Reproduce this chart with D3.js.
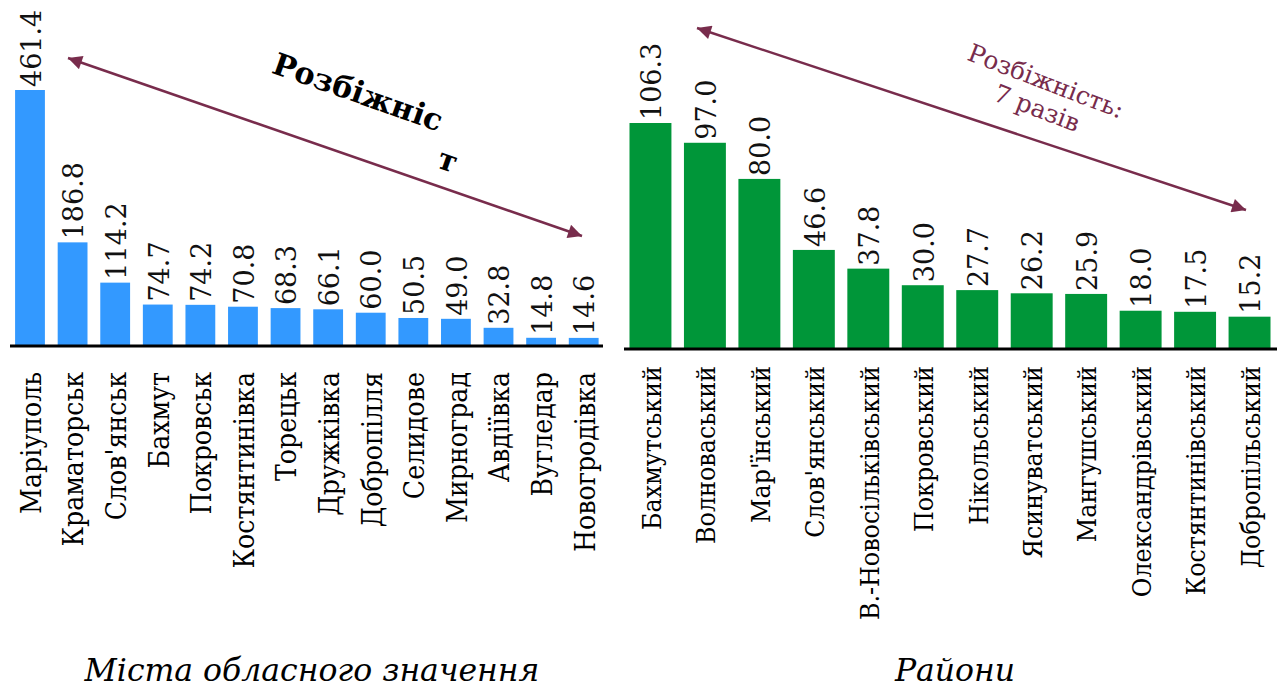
<!DOCTYPE html>
<html><head><meta charset="utf-8">
<script src="https://cdn.jsdelivr.net/npm/d3@7"></script>
<style>
html,body{margin:0;padding:0;background:#fff;}
svg{display:block;}
</style></head>
<body>
<svg id="c" width="1282" height="687"></svg>
<script>
const cityNames = ["Маріуполь","Краматорськ","Слов'янськ","Бахмут","Покровськ","Костянтинівка","Торецьк","Дружківка","Добропілля","Селидове","Мирноград","Авдіївка","Вугледар","Новогродівка"];
const cityValues = [461.4,186.8,114.2,74.7,74.2,70.8,68.3,66.1,60.0,50.5,49.0,32.8,14.8,14.6];
const districtNames = ["Бахмутський","Волноваський","Мар'їнський","Слов'янський","В.-Новосільківський","Покровський","Нікольський","Ясинуватський","Мангушський","Олександрівський","Костянтинівський","Добропільський"];
const districtValues = [106.3,97.0,80.0,46.6,37.8,30.0,27.7,26.2,25.9,18.0,17.5,15.2];
const titles = ["Міста обласного значення","Райони"];
const noteLeft = ["Розбіжніс","т"];
const noteRight = ["Розбіжність:","7 разів"];

const DSERIF = "'DejaVu Serif',serif";
const CSERIF = "'DejaVu Serif Condensed','DejaVu Serif',serif";
const svg = d3.select("#c");
const MAROON = "#782c4c";

const defs = svg.append("defs");
["s","e"].forEach(k=>{
  defs.append("marker").attr("id","m"+k).attr("viewBox","0 0 10 10")
    .attr("refX", k==="e"?10:0).attr("refY",5).attr("markerWidth",17).attr("markerHeight",14)
    .attr("markerUnits","userSpaceOnUse").attr("orient","auto")
    .append("path").attr("d", k==="e" ? "M0,0 L10,5 L0,10 z" : "M10,0 L0,5 L10,10 z")
    .attr("fill",MAROON);
});

function fitSize(sel, target, base){
  const w = sel.node().getComputedTextLength();
  return base * target / w;
}

function panel(cfg){
  const x = d3.scaleBand().domain(cfg.names).range(cfg.xr).paddingInner(cfg.pad).paddingOuter(cfg.padO);
  const y = d3.scaleLinear().domain([0, d3.max(cfg.values)]).range([cfg.base, cfg.top]);
  const g = svg.append("g");
  const data = cfg.names.map((n,i)=>({n, v:cfg.values[i]}));
  g.selectAll("rect").data(data).join("rect")
    .attr("x", d=>x(d.n)).attr("width", x.bandwidth())
    .attr("y", d=>y(d.v)).attr("height", d=>cfg.base - y(d.v))
    .attr("fill", cfg.color);
  g.selectAll("text.v").data(data).join("text").attr("class","v")
    .attr("transform", d=>`translate(${x(d.n)+x.bandwidth()/2+1},${y(d.v)-3}) rotate(-90)`)
    .attr("dy","0.36em")
    .style("font-family",DSERIF).style("font-size","27px").style("font-weight","300").attr("fill","#111")
    .text(d=>d.v.toFixed(1));
  const ax = d3.axisBottom(x).tickSize(0).tickPadding(0);
  const axg = g.append("g").attr("transform",`translate(0,${cfg.base})`).call(ax);
  axg.attr("font-family",null).attr("font-size",null);
  axg.select(".domain").attr("stroke","#000").attr("stroke-width",3)
    .attr("d", `M${cfg.line[0]},0H${cfg.line[1]}`);
  const t = axg.selectAll(".tick text")
    .attr("transform", `translate(1,${cfg.labTop}) rotate(-90)`)
    .attr("y",0).attr("dy","0.35em")
    .attr("text-anchor","end")
    .style("font-family",CSERIF).style("font-stretch","condensed").style("font-size","26px").attr("fill","#000");
  const fs = fitSize(d3.select(t.nodes()[0]), cfg.firstW, 26);
  t.style("font-size", fs+"px");
  return {x,y};
}

panel({names:cityNames, values:cityValues, xr:[8.7,605], pad:0.3, padO:0.15, base:346, top:90,
  color:"#3399ff", line:[10,603], labTop:26, firstW:142});
panel({names:districtNames, values:districtValues, xr:[623.5,1276.5], pad:0.23, padO:0.11, base:349, top:123,
  color:"#009639", line:[624,1277], labTop:17, firstW:164});

// arrows
svg.append("line").attr("x1",68).attr("y1",58).attr("x2",582).attr("y2",236)
  .attr("stroke",MAROON).attr("stroke-width",2.5)
  .attr("marker-start","url(#ms)").attr("marker-end","url(#me)");
svg.append("line").attr("x1",697).attr("y1",28).attr("x2",1246).attr("y2",210)
  .attr("stroke",MAROON).attr("stroke-width",2.5)
  .attr("marker-start","url(#ms)").attr("marker-end","url(#me)");

// notes
const n1 = svg.append("text").attr("transform","translate(358,92) rotate(19.5)")
  .attr("text-anchor","middle").attr("dy","0.35em")
  .style("font-family",DSERIF).style("font-weight","bold").style("font-size","28px")
  .text(noteLeft[0]);
const nfs = fitSize(n1, 178, 28);
n1.style("font-size", nfs+"px");
svg.append("text").attr("transform","translate(448,160) rotate(19.5)")
  .attr("text-anchor","middle").attr("dy","0.35em")
  .style("font-family",DSERIF).style("font-weight","bold").style("font-size",nfs+"px")
  .text(noteLeft[1]);
const r1 = svg.append("text").attr("transform","translate(1046,81) rotate(21)")
  .attr("text-anchor","middle").attr("dy","0.35em").attr("fill",MAROON)
  .style("font-family",DSERIF).style("font-size","22px")
  .text(noteRight[0]);
const rfs = fitSize(r1, 165, 22);
r1.style("font-size", rfs+"px");
svg.append("text").attr("transform","translate(1037,108) rotate(21)")
  .attr("text-anchor","middle").attr("dy","0.35em").attr("fill",MAROON)
  .style("font-family",DSERIF).style("font-size",rfs+"px")
  .text(noteRight[1]);

// titles
const t1 = svg.append("text").attr("x",312).attr("y",681).attr("text-anchor","middle")
  .style("font-family",DSERIF).style("font-style","italic").style("font-size","30px")
  .text(titles[0]);
const tfs = fitSize(t1, 455, 30);
t1.style("font-size", tfs+"px");
svg.append("text").attr("x",955).attr("y",681).attr("text-anchor","middle")
  .style("font-family",DSERIF).style("font-style","italic").style("font-size",tfs+"px")
  .text(titles[1]);
</script>
</body></html>
